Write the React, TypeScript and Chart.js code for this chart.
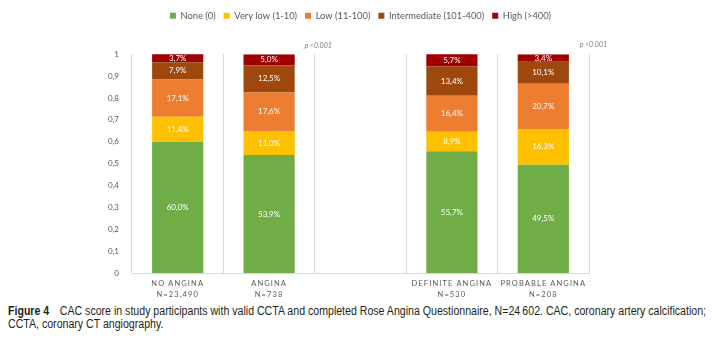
import React, { useEffect, useRef } from "react";
import { Chart, registerables, CategoryScale } from "chart.js";

Chart.register(...registerables);

class SpacedCategoryScale extends CategoryScale {
  static id = "spacedCategory";
  static defaults = (CategoryScale as any).defaults;
  drawLabels(area: any) {
    const ctx = (this as any).ctx as CanvasRenderingContext2D;
    ctx.save();
    (ctx as any).letterSpacing = "1.1px";
    // @ts-ignore
    super.drawLabels(area);
    ctx.restore();
  }
}
Chart.register(SpacedCategoryScale as any);

// ---- data ----
const categories: (string | string[])[] = [
  ["NO ANGINA", "N=23,490"],
  ["ANGINA", "N=738"],
  "",
  ["DEFINITE ANGINA", "N=530"],
  ["PROBABLE ANGINA", "N=208"],
];
const seriesNames = ["None (0)", "Very low (1-10)", "Low (11-100)", "Intermediate (101-400)", "High (>400)"];
const seriesColors = ["#70AD47", "#FFC000", "#ED7D31", "#9E480E", "#A00000"];
const noneVals = [60.0, 53.9, null, 55.7, 49.5];
const veryLowVals = [11.4, 11.0, null, 8.9, 16.3];
const lowVals = [17.1, 17.6, null, 16.4, 20.7];
const intermediateVals = [7.9, 12.5, null, 13.4, 10.1];
const highVals = [3.7, 5.0, null, 5.7, 3.4];
const pValueLabels = ["p <0.001", "p <0.001"];
const yMin = 0;
const yMax = 1;
const yStep = 0.1;

const allSeries = [noneVals, veryLowVals, lowVals, intermediateVals, highVals];
const FONT = "Lato, 'Open Sans', sans-serif";

const legendSpacer = {
  id: "legendSpacer",
  beforeInit(chart: any) {
    const legend = chart.legend;
    if (!legend) return;
    const orig = legend.fit;
    legend.fit = function () {
      orig.call(this);
      this.height += 24;
    };
  },
};

const valueLabelPlugin = {
  id: "valueLabels",
  afterDatasetsDraw(chart: any) {
    const ctx = chart.ctx as CanvasRenderingContext2D;
    ctx.save();
    ctx.fillStyle = "#ffffff";
    ctx.font = `8px ${FONT}`;
    ctx.textAlign = "center";
    ctx.textBaseline = "middle";
    chart.data.datasets.forEach((_ds: any, di: number) => {
      const meta = chart.getDatasetMeta(di);
      meta.data.forEach((el: any, i: number) => {
        const v = allSeries[di][i];
        if (v == null) return;
        const p = el.getProps(["x", "y", "base"], true);
        ctx.fillText(v.toFixed(1).replace(".", ",") + "%", p.x, (p.y + p.base) / 2);
      });
    });
    const xs = chart.scales.x;
    const catW = (xs.right - xs.left) / categories.length;
    ctx.fillStyle = "#7f7f7f";
    ctx.font = `italic 7px ${FONT}`;
    ctx.textAlign = "right";
    const top = chart.chartArea.top;
    ctx.fillText(pValueLabels[0], xs.left + 2 * catW + 17, top - 9);
    ctx.fillText(pValueLabels[1], xs.right + 18, top - 10);
    ctx.restore();
  },
};

function Caption() {
  const ref = useRef<HTMLDivElement>(null);
  useEffect(() => {
    const el = ref.current;
    if (!el) return;
    const spans = el.querySelectorAll("span.line") as NodeListOf<HTMLSpanElement>;
    const w = spans[0].getBoundingClientRect().width;
    const s = 698 / w;
    spans.forEach((sp) => {
      sp.style.transform = `scaleX(${s})`;
    });
  }, []);
  const lineStyle: React.CSSProperties = {
    display: "inline-block",
    whiteSpace: "nowrap",
    transformOrigin: "0 0",
  };
  return (
    <div
      ref={ref}
      style={{
        fontFamily: "'Liberation Sans', Arial, sans-serif",
        fontSize: 12,
        lineHeight: "13px",
        color: "#231f20",
        marginTop: 5,
        whiteSpace: "nowrap",
      }}
    >
      <span className="line" style={lineStyle}>
        <b>Figure 4</b>
        {"\u2003"}CAC score in study participants with valid CCTA and completed Rose Angina Questionnaire, N=24{"\u2009"}602. CAC, coronary artery calcification;
      </span>
      <br />
      <span className="line" style={lineStyle}>CCTA, coronary CT angiography.</span>
    </div>
  );
}

export default function App() {
  const ref = useRef<HTMLCanvasElement>(null);
  useEffect(() => {
    if (!ref.current) return;
    const chart = new Chart(ref.current, {
      type: "bar",
      data: {
        labels: categories as any,
        datasets: allSeries.map((vals, i) => ({
          label: seriesNames[i],
          data: vals.map((v) => (v == null ? null : v / 100)),
          backgroundColor: seriesColors[i],
          borderWidth: 0,
          categoryPercentage: 1,
          barPercentage: 0.56,
          yAxisID: "y",
        })),
      },
      options: {
        animation: false,
        responsive: false,
        layout: { padding: { left: 0, right: 0, top: -5, bottom: 0 } },
        plugins: {
          legend: {
            position: "top",
            labels: {
              boxWidth: 6,
              boxHeight: 6,
              padding: 8,
              color: "#595959",
              font: { family: FONT, size: 9.3 },
            },
          },
          tooltip: { enabled: false },
        },
        scales: {
          x: {
            type: "spacedCategory" as any,
            stacked: true,
            afterFit: (s: any) => {
              s.height = 27;
            },
            grid: { display: true, offset: true, color: "#d9d9d9", drawTicks: false },
            border: { display: true, color: "#d9d9d9" },
            ticks: {
              color: "#595959",
              font: { family: FONT, size: 7.5, lineHeight: 1.5 },
              padding: 5,
              maxRotation: 0,
              autoSkip: false,
            },
          },
          y: {
            stacked: true,
            min: yMin,
            max: yMax,
            afterFit: (s: any) => {
              s.width = 124;
            },
            grid: { display: false },
            border: { display: false },
            ticks: {
              stepSize: yStep,
              color: "#595959",
              font: { family: FONT, size: 8 },
              padding: 5,
              callback: (v: any) => {
                const n = Math.round(Number(v) * 10) / 10;
                if (n === 0 || n === 1) return String(n);
                return n.toFixed(1).replace(".", ",");
              },
            },
          },
          yRightSpace: {
            position: "right",
            min: yMin,
            max: yMax,
            afterFit: (s: any) => {
              s.width = 124;
            },
            grid: { display: false },
            border: { display: false },
            ticks: { display: false },
          },
        },
      },
      plugins: [legendSpacer, valueLabelPlugin],
    });
    return () => chart.destroy();
  }, []);

  return (
    <div>
      <canvas ref={ref} width={705} height={292} style={{ display: "block" }} />
      <Caption />
    </div>
  );
}
